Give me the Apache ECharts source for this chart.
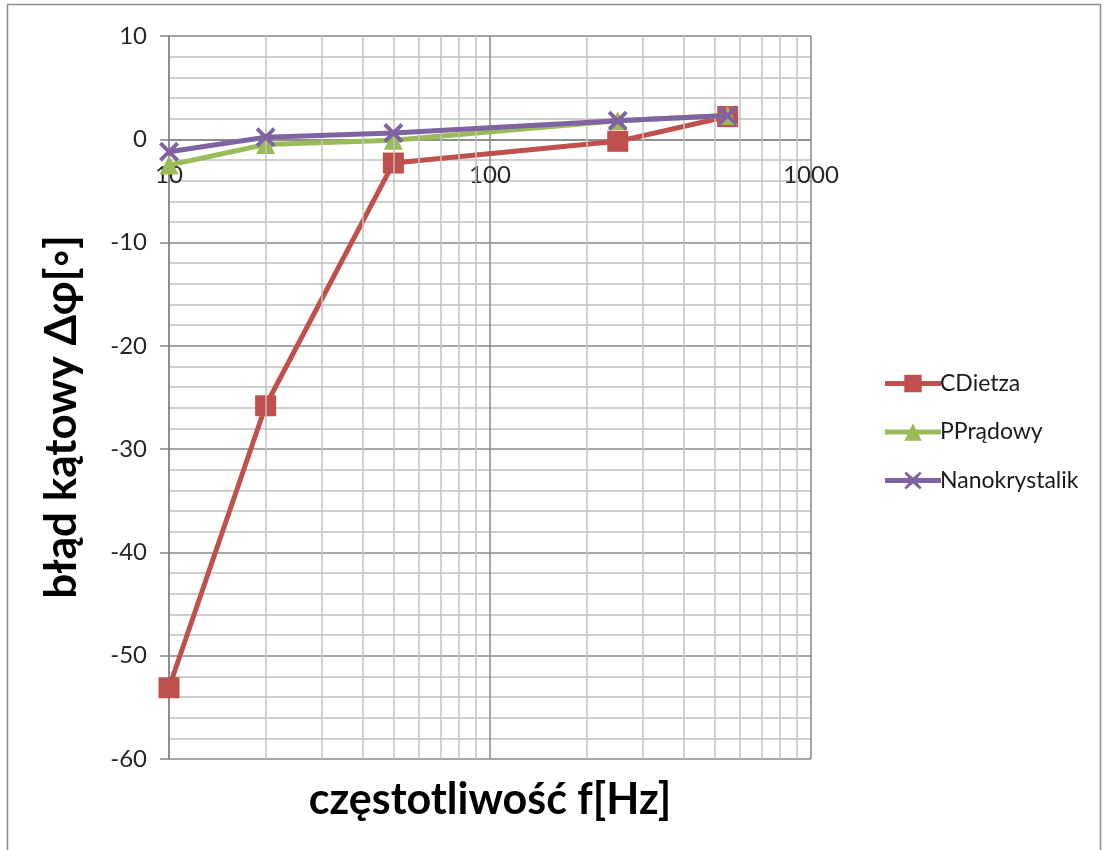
<!DOCTYPE html>
<html>
<head>
<meta charset="utf-8">
<script src="https://cdn.jsdelivr.net/npm/echarts@6/dist/echarts.min.js"></script>
<style>
  html, body { margin: 0; padding: 0; background: #fff; }
  #chart { width: 1105px; height: 850px; }
</style>
</head>
<body>
<div id="chart"></div>
<script>
// Frequency points [Hz] and measured phase error [deg] for each transformer
const freqs = [10, 20, 50, 250, 550];
const cDietza = [-53.1, -25.8, -2.3, -0.2, 2.2];
const pPradowy = [-2.5, -0.5, -0.1, 1.8, 2.3];
const nanokrystalik = [-1.2, 0.2, 0.6, 1.8, 2.3];

const seriesNames = ['CDietza', 'PPrądowy', 'Nanokrystalik'];
const xTitle = 'częstotliwość f[Hz]';
const yTitle = 'błąd kątowy Δφ[◦]';

// Intermediate decade lines of the logarithmic frequency axis
const minorFreqs = [20, 30, 40, 50, 60, 70, 80, 90, 200, 300, 400, 500, 600, 700, 800, 900];

const FONT = 'Lato, "Open Sans", "Liberation Sans", sans-serif';
const MAJOR = '#878787';
const MINOR = '#c0c0c0';
const COLORS = ['#C0504D', '#9BBB59', '#8064A2'];

const GRID = { left: 169, right: 294, top: 36, bottom: 91 };
const Y_MIN = -60, Y_MAX = 10;

const crossSymbol = 'path://M0,1.4 L1.4,0 L5,3.6 L8.6,0 L10,1.4 L6.4,5 L10,8.6 L8.6,10 L5,6.4 L1.4,10 L0,8.6 L3.6,5 Z';

// Legend keys: a thick line segment with the series marker in the middle (58 x 18 box)
const LEG_BAR = 'M0,6.5 L58,6.5 L58,11.5 L0,11.5 Z ';
const legendIcons = [
  'path://' + LEG_BAR + 'M20,0 L38,0 L38,18 L20,18 Z',
  'path://' + LEG_BAR + 'M29,0 L38,18 L20,18 Z',
  'path://' + LEG_BAR + 'M20,1.5 L22,0 L29,6 L36,0 L38,1.5 L31.5,9 L38,16.5 L36,18 L29,12 L22,18 L20,16.5 L26.5,9 Z'
];

const pairs = (ys) => freqs.map((f, i) => [f, ys[i]]);

// The frequency axis crosses the value axis at 0: lift it from the bottom edge
const plotHeight = 850 - GRID.top - GRID.bottom;
const zeroLift = plotHeight * (0 - Y_MIN) / (Y_MAX - Y_MIN);

const chart = echarts.init(document.getElementById('chart'));

chart.setOption({
  animation: false,
  backgroundColor: '#ffffff',
  grid: Object.assign({ containLabel: false }, GRID),
  xAxis: {
    type: 'log',
    logBase: 10,
    min: 10,
    max: 1000,
    position: 'bottom',
    offset: -zeroLift,
    axisLine: { show: true, onZero: false, lineStyle: { color: MAJOR, width: 1.5 } },
    axisTick: { show: false },
    axisLabel: {
      color: '#262626', fontSize: 24, fontFamily: FONT, margin: 24,
      formatter: (v) => String(v)
    },
    splitLine: { show: true, lineStyle: { color: MAJOR, width: 1.5 } }
  },
  yAxis: {
    type: 'value',
    min: Y_MIN,
    max: Y_MAX,
    interval: 10,
    axisLine: { show: true, onZero: false, lineStyle: { color: MAJOR, width: 1.5 } },
    axisTick: { show: true, length: 9, lineStyle: { color: MAJOR, width: 1.5 } },
    axisLabel: { color: '#262626', fontSize: 24, fontFamily: FONT, margin: 22 },
    splitLine: { show: true, lineStyle: { color: MAJOR, width: 1.5 } },
    minorTick: { show: false, splitNumber: 5 },
    minorSplitLine: { show: true, lineStyle: { color: MINOR, width: 1.5 } }
  },
  legend: {
    orient: 'vertical',
    left: 880,
    top: 367,
    itemWidth: 56,
    itemHeight: 18,
    itemGap: 25.5,
    data: seriesNames.map((name, i) => ({ name, icon: legendIcons[i] })),
    textStyle: { color: '#1a1a1a', fontSize: 23, fontFamily: FONT, padding: [0, 0, 0, -6] }
  },
  series: [
    {
      // carries the intermediate vertical grid lines
      type: 'line',
      data: [],
      silent: true,
      z: 1,
      markLine: {
        silent: true,
        symbol: 'none',
        label: { show: false },
        lineStyle: { color: MINOR, width: 1.5, type: 'solid' },
        data: minorFreqs.map((f) => ({ xAxis: f }))
      }
    },
    {
      name: seriesNames[0],
      type: 'line',
      data: pairs(cDietza),
      color: COLORS[0],
      symbol: 'rect',
      symbolSize: 21,
      lineStyle: { width: 5, color: COLORS[0] },
      itemStyle: { color: COLORS[0] },
      z: 3
    },
    {
      name: seriesNames[1],
      type: 'line',
      data: pairs(pPradowy),
      color: COLORS[1],
      symbol: 'triangle',
      symbolSize: 19,
      lineStyle: { width: 5, color: COLORS[1] },
      itemStyle: { color: COLORS[1] },
      z: 4
    },
    {
      name: seriesNames[2],
      type: 'line',
      data: pairs(nanokrystalik),
      color: COLORS[2],
      symbol: crossSymbol,
      symbolSize: 20,
      lineStyle: { width: 5, color: COLORS[2] },
      itemStyle: { color: COLORS[2] },
      z: 5
    }
  ],
  graphic: [
    {
      type: 'rect',
      shape: { x: 7.5, y: 4.5, width: 1093, height: 850 },
      style: { fill: 'none', stroke: '#8c8c8c', lineWidth: 1.5 },
      silent: true
    },
    {
      type: 'text',
      x: 490,
      y: 800,
      style: {
        text: xTitle,
        fill: '#000',
        font: 'bold 43px ' + FONT,
        textAlign: 'center',
        textVerticalAlign: 'middle'
      }
    },
    {
      type: 'text',
      x: 62,
      y: 417,
      rotation: Math.PI / 2,
      style: {
        text: yTitle,
        fill: '#000',
        font: 'bold 44px ' + FONT,
        textAlign: 'center',
        textVerticalAlign: 'middle'
      }
    }
  ]
});
</script>
</body>
</html>
